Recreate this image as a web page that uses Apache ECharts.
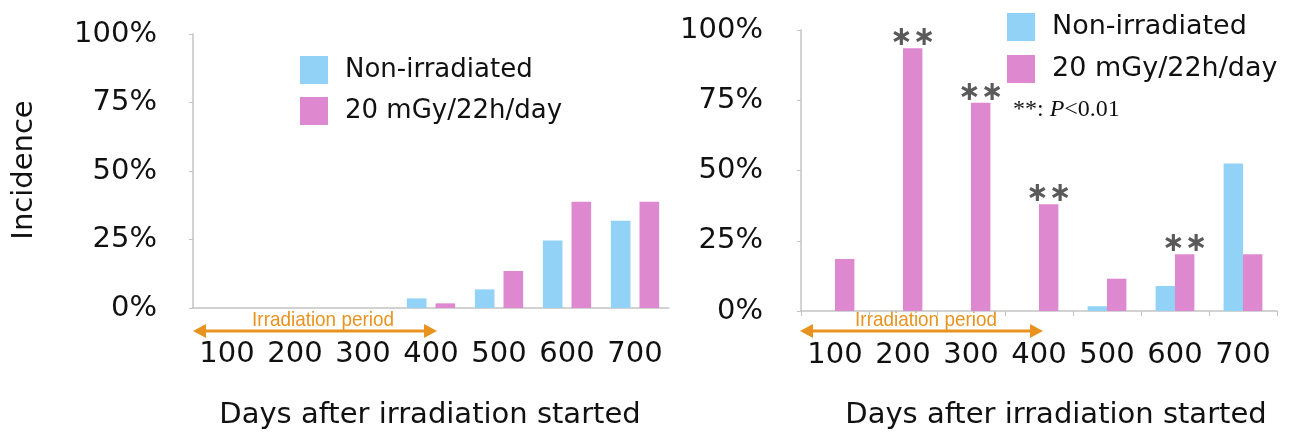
<!DOCTYPE html>
<html>
<head>
<meta charset="utf-8">
<title>Incidence after irradiation</title>
<script src="https://cdn.jsdelivr.net/npm/echarts@6/dist/echarts.min.js"></script>
<style>
  html, body { margin: 0; padding: 0; background: #fff; }
  #chart { width: 1298px; height: 438px; }
</style>
</head>
<body>
<div id="chart"></div>
<script>
const days = ["100", "200", "300", "400", "500", "600", "700"];
const yTicks = [0, 25, 50, 75, 100];

// left panel
const leftControl = [0, 0, 0, 3.5, 6.8, 24.6, 31.8];
const leftIrradiated = [0, 0, 0, 1.7, 13.5, 38.8, 38.8];

// right panel
const rightControl = [0, 0, 0, 0, 1.7, 8.9, 52.5];
const rightIrradiated = [18.5, 93.5, 74.1, 38, 11.5, 20.2, 20.2];
const rightSignificance = ["", "∗∗", "∗∗", "∗∗", "", "∗∗", ""];

const seriesNames = ["Non-irradiated", "20 mGy/22h/day"];

const blue = "#93d2f7";
const pink = "#de88d0";
const orange = "#e8931f";
const axisGray = "#c4c4c4";
const font = "DejaVu Sans";

const chart = echarts.init(document.getElementById("chart"), null, {
  renderer: "canvas",
});

function xAxisFor(gridIndex, showTicks, labelMargin) {
  return {
    type: "category",
    gridIndex: gridIndex,
    data: days,
    axisLine: { lineStyle: { color: axisGray, width: 1.5 } },
    axisTick: { show: showTicks, length: 5, lineStyle: { color: axisGray } },
    axisLabel: {
      interval: 0,
      color: "#111",
      fontFamily: font,
      fontSize: 29,
      margin: labelMargin,
    },
  };
}

function yAxisFor(gridIndex, labelMargin) {
  return {
    type: "value",
    gridIndex: gridIndex,
    min: yTicks[0],
    max: yTicks[yTicks.length - 1],
    interval: 25,
    axisLine: { show: true, lineStyle: { color: axisGray, width: 1.5 } },
    axisTick: { show: true, length: 4, lineStyle: { color: axisGray } },
    splitLine: { show: false },
    axisLabel: {
      formatter: "{value}%",
      color: "#111",
      fontFamily: font,
      fontSize: 29,
      margin: labelMargin,
    },
  };
}

function legendAt(left, top, fontSize, gap) {
  return {
    orient: "vertical",
    left: left,
    top: top,
    icon: "rect",
    itemWidth: 28,
    itemHeight: 28,
    itemGap: gap,
    data: seriesNames,
    textStyle: {
      color: "#111",
      fontFamily: font,
      fontSize: fontSize,
      padding: [0, 0, 0, 12],
    },
  };
}

function arrow(x1, x2, y) {
  return {
    type: "group",
    children: [
      {
        type: "line",
        shape: { x1: x1 + 8, y1: y, x2: x2 - 8, y2: y },
        style: { stroke: orange, lineWidth: 3 },
      },
      {
        type: "polygon",
        shape: { points: [[x1, y], [x1 + 13, y - 7], [x1 + 13, y + 7]] },
        style: { fill: orange },
      },
      {
        type: "polygon",
        shape: { points: [[x2, y], [x2 - 13, y - 7], [x2 - 13, y + 7]] },
        style: { fill: orange },
      },
    ],
  };
}

function centredText(text, x, y, size, extra) {
  return Object.assign(
    {
      type: "text",
      x: x,
      y: y,
      style: {
        text: text,
        fill: "#111",
        font: size + "px '" + font + "'",
        align: "center",
        verticalAlign: "middle",
      },
    },
    extra || {},
  );
}

function periodText(x) {
  return {
    type: "text",
    x: x,
    y: 320,
    scaleX: 0.9,
    style: {
      text: "Irradiation period",
      fill: orange,
      font: "21px 'Liberation Sans'",
      align: "center",
      verticalAlign: "middle",
    },
  };
}

const option = {
  backgroundColor: "#fff",
  animation: false,
  grid: [
    { left: 193, top: 34, width: 476, height: 274 },
    { left: 801, top: 30, width: 476, height: 281 },
  ],
  xAxis: [xAxisFor(0, false, 32), xAxisFor(1, true, 30)],
  yAxis: [yAxisFor(0, 36), yAxisFor(1, 38)],
  legend: [legendAt(295, 51, 26, 13), legendAt(1002, 8, 27, 14)],
  series: [
    {
      name: seriesNames[0],
      type: "bar",
      xAxisIndex: 0,
      yAxisIndex: 0,
      data: leftControl,
      itemStyle: { color: blue },
      barGap: "46%",
      barCategoryGap: "29%",
    },
    {
      name: seriesNames[1],
      type: "bar",
      xAxisIndex: 0,
      yAxisIndex: 0,
      data: leftIrradiated,
      itemStyle: { color: pink },
      barGap: "46%",
      barCategoryGap: "29%",
    },
    {
      name: seriesNames[0],
      type: "bar",
      xAxisIndex: 1,
      yAxisIndex: 1,
      data: rightControl,
      itemStyle: { color: blue },
      barGap: "0%",
      barCategoryGap: "43%",
    },
    {
      name: seriesNames[1],
      type: "bar",
      xAxisIndex: 1,
      yAxisIndex: 1,
      data: rightIrradiated,
      itemStyle: { color: pink },
      barGap: "0%",
      barCategoryGap: "43%",
      label: {
        show: true,
        position: "top",
        distance: 0,
        formatter: (p) => rightSignificance[p.dataIndex],
        color: "#5a5a5a",
        fontFamily: font,
        fontSize: 27,
        fontWeight: "bold",
        lineHeight: 20,
        letterSpacing: -3,
      },
    },
  ],
  graphic: [
    centredText("Incidence", 24, 170, 29, { rotation: Math.PI / 2 }),
    centredText("Days after irradiation started", 430, 415, 29),
    centredText("Days after irradiation started", 1056, 415, 29),
    arrow(193, 437, 331),
    arrow(800, 1043, 331),
    periodText(323),
    periodText(926),
    {
      type: "text",
      x: 1013,
      y: 110,
      style: {
        text: "{a|**: }{p|P}{a|<0.01}",
        verticalAlign: "middle",
        rich: {
          a: { font: "24px 'Liberation Serif'", fill: "#111" },
          p: { font: "italic 24px 'Liberation Serif'", fill: "#111" },
        },
      },
    },
  ],
};

chart.setOption(option);
window.onresize = chart.resize;
</script>
</body>
</html>
